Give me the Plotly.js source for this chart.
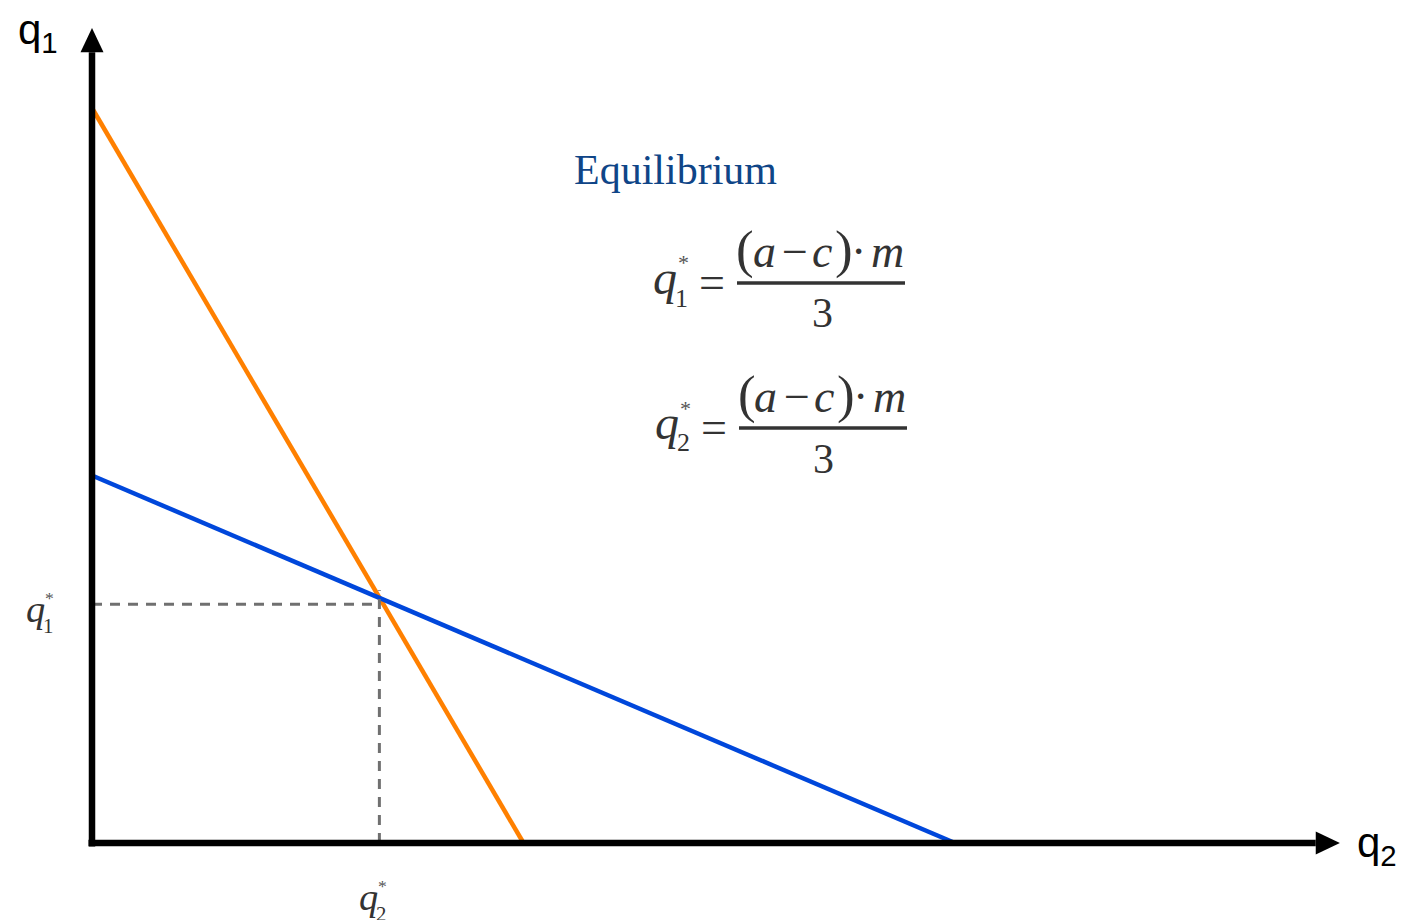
<!DOCTYPE html>
<html>
<head>
<meta charset="utf-8">
<script src="https://cdn.plot.ly/plotly-3.0.1.min.js"></script>
<style>html,body{margin:0;padding:0;background:#fff;}#chart{width:1405px;height:920px;}</style>
</head>
<body>
<div id="chart"></div>
<script>
// ---- data (in quantity units) ----
const firm1Q2 = [0, 5];      // reaction curve of firm 1 (orange)
const firm1Q1 = [10, 0];
const firm2Q2 = [0, 10];     // reaction curve of firm 2 (blue)
const firm2Q1 = [5, 0];
const q2Star = 3.33;         // equilibrium q2*
const q1Star = 3.25;         // equilibrium q1*
const vGuideTop = 3.44;      // top of vertical guide
const xAxisEnd = [14.18, 14.46];  // arrow base, tip
const yAxisEnd = [10.76, 11.09];
const axisLabels = ['q<sub>1</sub>', 'q<sub>2</sub>'];
const titleText = 'Equilibrium';
const numerParts = ['(', '<i>a</i>', '−', '<i>c</i>', ')', '·', '<i>m</i>'];
const denomText = '3';

// ---- layout geometry ----
const W = 1405, H = 920;
const x0px = 92, y0px = 843, pxX = 86.3, pxY = 73.5;
const xRange = [-x0px / pxX, (W - x0px) / pxX];
const yRange = [-(H - y0px) / pxY, y0px / pxY];
const px = v => v / W, py = v => 1 - v / H;

const serif = 'Liberation Serif, Times New Roman, serif';
const sans = 'Liberation Sans, Arial, sans-serif';
const ink = '#333333';

const traces = [
  {x: firm1Q2, y: firm1Q1, mode: 'lines', line: {color: '#FF8000', width: 4.5}, hoverinfo: 'skip'},
  {x: firm2Q2, y: firm2Q1, mode: 'lines', line: {color: '#0047DB', width: 4.5}, hoverinfo: 'skip'},
  {x: [0, q2Star], y: [q1Star, q1Star], mode: 'lines', line: {color: '#707070', width: 3, dash: '10px,8px'}, hoverinfo: 'skip'},
  {x: [q2Star, q2Star], y: [0, vGuideTop], mode: 'lines', line: {color: '#707070', width: 3, dash: '10px,8px'}, hoverinfo: 'skip'}
];

const ahx = 11.5 / pxX, ahy = 11.5 / pxY;
const shapes = [
  {type: 'line', xref: 'x', yref: 'y', x0: -3.5 / pxX, y0: 0, x1: xAxisEnd[0], y1: 0, line: {color: '#000', width: 6.5}},
  {type: 'line', xref: 'x', yref: 'y', x0: 0, y0: -3.5 / pxY, x1: 0, y1: yAxisEnd[0], line: {color: '#000', width: 6.5}},
  {type: 'path', xref: 'x', yref: 'y', fillcolor: '#000', line: {width: 0},
   path: `M${xAxisEnd[0]},${-ahy} L${xAxisEnd[1]},0 L${xAxisEnd[0]},${ahy} Z`},
  {type: 'path', xref: 'x', yref: 'y', fillcolor: '#000', line: {width: 0},
   path: `M${-ahx},${yAxisEnd[0]} L0,${yAxisEnd[1]} L${ahx},${yAxisEnd[0]} Z`}
];

const annotations = [];
function ann(text, x, y, size, opt) {
  opt = opt || {};
  annotations.push({
    text: text, xref: 'paper', yref: 'paper', x: px(x), y: py(y),
    xanchor: opt.xanchor || 'center', yanchor: opt.yanchor || 'middle',
    showarrow: false,
    font: {family: opt.family || serif, size: size, color: opt.color || ink}
  });
}

ann(axisLabels[0], 16, 32, 42, {xanchor: 'left', family: sans, color: '#000'});
ann(axisLabels[1], 1355, 845, 42, {xanchor: 'left', family: sans, color: '#000'});
ann(titleText, 675, 170, 42, {color: '#0f4587'});

// q with star superscript and index subscript; (x, y) = centre of q, s = scale
function qStar(idx, x, y, s) {
  ann('<i>q</i>', x, y, 48 * s);
  ann(String(idx), x + 16 * s, y + 21 * s, 26 * s);
  ann('*', x + 18 * s, y - 14 * s, 22 * s, {color: '#555555'});
}
// fraction: barY = y of fraction bar
function formula(idx, dx, barY) {
  qStar(idx, 665 + dx, barY - 6, 1);
  ann('=', 712 + dx, barY - 0.5, 46);
  const centres = [745, 764, 795, 822, 844, 858, 887];
  const sizes = [53, 46, 46, 46, 53, 46, 46];
  const base = barY - 16;
  numerParts.forEach((t, i) => ann(t, centres[i] + dx, base - 0.3375 * sizes[i], sizes[i]));
  ann(denomText, 822 + dx, barY + 30.5, 42);
  shapes.push({type: 'line', xref: 'paper', yref: 'paper', x0: px(737 + dx), x1: px(905 + dx),
               y0: py(barY), y1: py(barY), line: {color: ink, width: 3.5}});
}
formula(1, 0, 283);
formula(2, 2, 428);

// axis tick labels
qStar(1, 35, 609, 0.8);
qStar(2, 368, 897, 0.8);

const layout = {
  width: W, height: H,
  margin: {l: 0, r: 0, t: 0, b: 0},
  paper_bgcolor: '#fff', plot_bgcolor: '#fff',
  showlegend: false,
  xaxis: {range: xRange, visible: false, fixedrange: true},
  yaxis: {range: yRange, visible: false, fixedrange: true},
  shapes: shapes,
  annotations: annotations
};

Plotly.newPlot('chart', traces, layout, {displayModeBar: false, staticPlot: true});
</script>
</body>
</html>
